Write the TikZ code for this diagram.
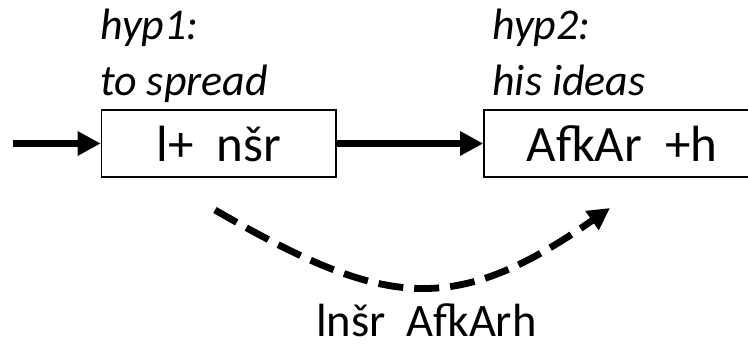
\documentclass[tikz,border=0pt]{standalone}
\usepackage{fontspec}
\setmainfont{Carlito}
\usetikzlibrary{arrows.meta}

\begin{document}
\begin{tikzpicture}[
  box/.style={draw, line width=0.9pt, inner sep=0pt, minimum height=1.34cm, font=\fontsize{29}{35}\selectfont},
  hyp/.style={anchor=base west, inner sep=0pt, font=\fontsize{25}{30}\selectfont\itshape},
  arr/.style={line width=4.4pt, -{Triangle[length=0.46cm, width=0.46cm]}},
  darr/.style={line width=3.9pt, dash pattern=on 0.5cm off 0.22cm, -{Triangle[length=0.44cm, width=0.44cm]}}
]
\useasboundingbox (0,0) rectangle (14.96,7);
\node[box, minimum width=4.69cm] (b1) at (4.375,4.13) {l+~~nšr};
\node[box, minimum width=5.52cm] (b2) at (12.44,4.13) {AfkAr~~+h};
\node[hyp] (h1a) at (2.0,6.22) {hyp1:};
\node[hyp] (h1b) at (2.0,5.10) {to spread};
\node[hyp] (h2a) at (9.84,6.22) {hyp2:};
\node[hyp] (h2b) at (9.84,5.10) {his ideas};
\node[anchor=base, inner sep=0pt, font=\fontsize{26.5}{31}\selectfont] (res) at (8.53,0.27) {lnšr~~AfkArh};
\coordinate (in) at (0.26,4.13);
\coordinate (c1) at (4.3,2.8);
\coordinate (c2) at (12.2,2.84);
\draw[arr] (in) -- (b1);
\draw[arr] (b1) -- (b2);
\draw[darr] (c1) to[out=-30, in=-145, looseness=1.25] (c2);
\end{tikzpicture}
\end{document}
